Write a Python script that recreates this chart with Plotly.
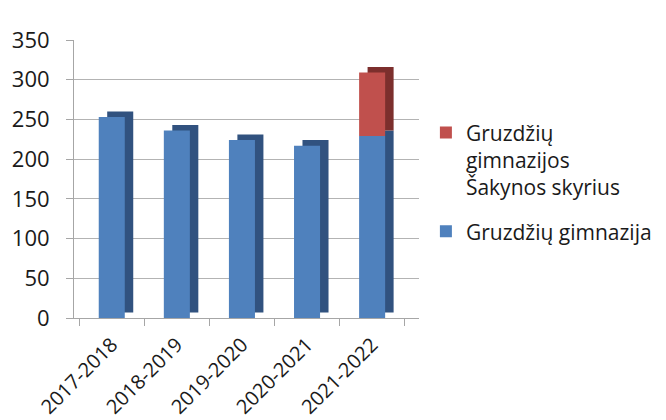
import plotly.graph_objects as go

categories = ["2017-2018", "2018-2019", "2019-2020", "2020-2021", "2021-2022"]
gimnazija = [253, 236, 224, 217, 229]
skyrius = [0, 0, 0, 0, 80]
name_gim = "Gruzdžių gimnazija"
name_sky = "Gruzdžių<br>gimnazijos<br>Šakynos skyrius"
y_ticks = [0, 50, 100, 150, 200, 250, 300, 350]

blue, blue_dark = "#4f81bd", "#31527f"
red, red_dark = "#c0504d", "#7c2f2d"

W = 0.4        # front face width (category units)
DX = 0.13      # depth shift to the right
DY = 7         # depth shift upward (value units)

fig = go.Figure()

# depth (side/top) faces drawn behind the front faces
fig.add_trace(go.Bar(x=categories, y=gimnazija, base=[DY] * len(categories), width=W, offset=-W / 2 + DX,
                     marker=dict(color=blue_dark, line=dict(width=0)), showlegend=False, hoverinfo="skip"))
fig.add_trace(go.Bar(x=categories, y=skyrius, base=[g + DY for g in gimnazija], width=W, offset=-W / 2 + DX,
                     marker=dict(color=red_dark, line=dict(width=0)), showlegend=False, hoverinfo="skip"))
# front faces
fig.add_trace(go.Bar(x=categories, y=gimnazija, base=[0] * len(categories), width=W, offset=-W / 2, name=name_gim,
                     marker=dict(color=blue, line=dict(width=0)), legendrank=2, legendgroup="g"))
fig.add_trace(go.Bar(x=categories, y=skyrius, base=gimnazija, width=W, offset=-W / 2, name=name_sky,
                     marker=dict(color=red, line=dict(width=0)), legendrank=1, legendgroup="s"))

L, R, T, B = 66, 255, 32, 110
fig.update_layout(
    width=666, height=420,
    margin=dict(l=L, r=R, t=T, b=B, autoexpand=False),
    barmode="overlay",
    paper_bgcolor="white", plot_bgcolor="white",
    font=dict(family="Open Sans, Liberation Sans, sans-serif", size=22, color="#1a1a1a"),
    xaxis=dict(
        type="category", tickangle=-45, range=[-0.58, 4.72], automargin=False,
        showgrid=False, showline=True, linecolor="#a6a6a6", linewidth=1,
        ticks="outside", tickson="boundaries", ticklen=7, tickcolor="#a6a6a6",
        tickfont=dict(size=20), ticklabelstandoff=6, zeroline=False,
    ),
    yaxis=dict(
        range=[0, 350], tickvals=y_ticks, automargin=False,
        showgrid=True, gridcolor="#b3b3b3", gridwidth=1,
        showline=True, linecolor="#a6a6a6", linewidth=1,
        ticks="outside", ticklen=7, tickcolor="#a6a6a6",
        ticklabelstandoff=12, zeroline=False,
    ),
    legend=dict(x=1.02, y=0.74, xanchor="left", yanchor="top", valign="top",
                font=dict(size=21), tracegroupgap=14, itemwidth=30,
                bgcolor="rgba(0,0,0,0)"),
    showlegend=True,
)
fig.write_html("out.html")
